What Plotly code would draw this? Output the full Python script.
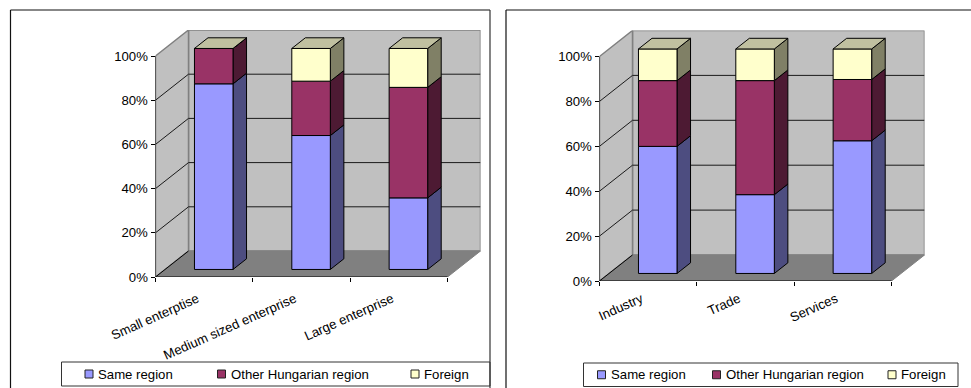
import plotly.graph_objects as go

WIDTH, HEIGHT = 971, 388

series_names = ["Same region", "Other Hungarian region", "Foreign"]

size_categories = ["Small enterptise", "Medium sized enterprise", "Large enterprise"]
size_same = [84.0, 60.6, 32.4]
size_other = [16.0, 24.6, 50.0]
size_foreign = [0.0, 14.8, 17.6]

sector_categories = ["Industry", "Trade", "Services"]
sector_same = [56.6, 35.1, 59.1]
sector_other = [29.3, 50.8, 27.3]
sector_foreign = [14.1, 14.1, 13.6]

y_ticks = [0, 20, 40, 60, 80, 100]
y_labels = ["0%", "20%", "40%", "60%", "80%", "100%"]

front_colors = ["#9999FF", "#993366", "#FFFFCC"]
side_colors = ["#4D4D80", "#4D1A33", "#808066"]
top_color = "#C0C0A0"
wall_color = "#C0C0C0"
floor_color = "#808080"
edge_gray = "#808080"
font_family = "Liberation Sans, Arial, sans-serif"
font_size = 13.2

fig = go.Figure()


def px_x(v):
    return v / WIDTH


def px_y(v):
    return 1 - v / HEIGHT


def add_panel(index, categories, values, left, front_right, back_right, bottom, top,
              depth_px, label_standoff):
    """Draw one oblique stacked column chart on its own pair of axes."""
    suffix = "" if index == 1 else str(index)
    xa, ya = f"x{suffix}", f"y{suffix}"
    n = len(categories)

    x_per_px = n / (front_right - left)
    depth_x = depth_px[0] * x_per_px
    y_unit_px = (bottom - top - depth_px[1]) / 100
    depth_y = depth_px[1] / y_unit_px

    def project(x, y, d):
        return x + d * depth_x, y + d * depth_y

    def poly(corners, fill, line_color="black", width=1):
        pts = [project(*c) for c in corners]
        pts.append(pts[0])
        fig.add_trace(go.Scatter(
            x=[p[0] for p in pts], y=[p[1] for p in pts],
            xaxis=xa, yaxis=ya, mode="lines", fill="toself", fillcolor=fill,
            line=dict(color=line_color, width=width),
            hoverinfo="skip", showlegend=False, cliponaxis=False,
        ))

    def segment(corners, color="black", width=1):
        pts = [project(*c) for c in corners]
        fig.add_trace(go.Scatter(
            x=[p[0] for p in pts], y=[p[1] for p in pts],
            xaxis=xa, yaxis=ya, mode="lines",
            line=dict(color=color, width=width),
            hoverinfo="skip", showlegend=False, cliponaxis=False,
        ))

    # Walls and floor of the box
    poly([(0, 0, 1), (n, 0, 1), (n, 100, 1), (0, 100, 1)], wall_color, edge_gray, 1.5)
    poly([(0, 0, 0), (0, 0, 1), (0, 100, 1), (0, 100, 0)], wall_color, edge_gray, 1.5)
    poly([(0, 0, 0), (n, 0, 0), (n, 0, 1), (0, 0, 1)], floor_color, edge_gray, 1)

    # Gridlines run along the side wall and across the back wall
    for tick in y_ticks[1:-1]:
        segment([(0, tick, 0), (0, tick, 1), (n, tick, 1)], "#1a1a1a", 1)
    segment([(0, 0, 0), (0, 0, 1)], "black", 1)

    # Front axis lines
    segment([(0, 0, 0), (0, 100, 0)], "black", 1)
    segment([(0, 0, 0), (n, 0, 0)], "black", 1.2)

    # Stacked columns
    bar_width = 0.396
    d0, d1 = 0.29, 0.70
    for c in range(n):
        x0 = c + (1 - bar_width) / 2
        x1 = x0 + bar_width
        base = 0.0
        for s, vals in enumerate(values):
            upper = base + vals[c]
            poly([(x1, base, d0), (x1, base, d1), (x1, upper, d1), (x1, upper, d0)],
                 side_colors[s])
            poly([(x0, base, d0), (x1, base, d0), (x1, upper, d0), (x0, upper, d0)],
                 front_colors[s])
            base = upper
        poly([(x0, base, d0), (x1, base, d0), (x1, base, d1), (x0, base, d1)], top_color)

    x_layout = dict(
        domain=[px_x(left), px_x(left + n / x_per_px + depth_px[0])],
        range=[0, n + depth_x],
        anchor=ya, automargin=False, showgrid=False, zeroline=False, showline=False,
        tickmode="array",
        # Rotated labels end slightly left of each category centre
        tickvals=[i + 0.43 for i in range(n)],
        ticktext=categories,
        ticks="", tickangle=-24, ticklabelstandoff=label_standoff,
        tickfont=dict(family=font_family, size=font_size, color="black"),
        minor=dict(tickmode="array", tickvals=list(range(n + 1)), ticks="outside",
                   ticklen=4, tickwidth=1, tickcolor="black", showgrid=False),
        fixedrange=True,
    )
    y_layout = dict(
        domain=[px_y(bottom), px_y(top)],
        range=[0, 100 + depth_y],
        anchor=xa, automargin=False, showgrid=False, zeroline=False, showline=False,
        tickmode="array", tickvals=y_ticks, ticktext=y_labels,
        ticks="outside", ticklen=4, tickwidth=1, tickcolor="black",
        tickfont=dict(family=font_family, size=font_size, color="black"),
        fixedrange=True,
    )
    fig.update_layout(**{f"xaxis{suffix}": x_layout, f"yaxis{suffix}": y_layout})


add_panel(1, size_categories, [size_same, size_other, size_foreign],
          155.5, 447.5, 480.5, 277, 30, (33, 26), 11)
add_panel(2, sector_categories, [sector_same, sector_other, sector_foreign],
          599.5, 891.5, 924.5, 281, 30.5, (33, 26), 7)

shapes = []
annotations = []


def rect(x0, y0, x1, y1, fill, line, width=1):
    shapes.append(dict(type="rect", xref="paper", yref="paper",
                       x0=px_x(x0), x1=px_x(x1), y0=px_y(y1), y1=px_y(y0),
                       fillcolor=fill, line=dict(color=line, width=width), layer="above"))


def add_frame_line(x0, y0, x1, y1, color):
    shapes.append(dict(type="line", xref="paper", yref="paper",
                       x0=px_x(x0), x1=px_x(x1), y0=px_y(y0), y1=px_y(y1),
                       line=dict(color=color, width=1.2), layer="above"))


def add_legend(box, swatch_starts):
    rect(box[0], box[1], box[2], box[3], "white", "#333333", 1)
    cy = (box[1] + box[3]) / 2
    for name, color, sx in zip(series_names, front_colors, swatch_starts):
        rect(sx, cy - 4, sx + 8, cy + 4, color, "#222222", 1)
        annotations.append(dict(
            xref="paper", yref="paper", x=px_x(sx + 11), y=px_y(cy), text=name,
            showarrow=False, xanchor="left", yanchor="middle",
            font=dict(family=font_family, size=font_size, color="black"),
        ))


add_legend((61.5, 362, 490, 386), (85, 217.5, 411))
add_legend((583.5, 363, 958, 386.5), (597.5, 712.5, 888))

# Chart-area frames: only the sides and top fall inside the page
add_frame_line(10.5, 10, 490, 10, "#111111")
add_frame_line(10.5, 10, 10.5, 388, "#111111")
add_frame_line(490, 10, 490, 388, "#333333")
add_frame_line(506, 10, 971, 10, "#111111")
add_frame_line(506, 10, 506, 388, "#111111")

fig.update_layout(
    width=WIDTH, height=HEIGHT, autosize=False,
    margin=dict(l=0, r=0, t=0, b=0, pad=0),
    paper_bgcolor="white", plot_bgcolor="rgba(0,0,0,0)",
    showlegend=False, shapes=shapes, annotations=annotations,
)

fig.write_html("out.html", config={"displayModeBar": False})
